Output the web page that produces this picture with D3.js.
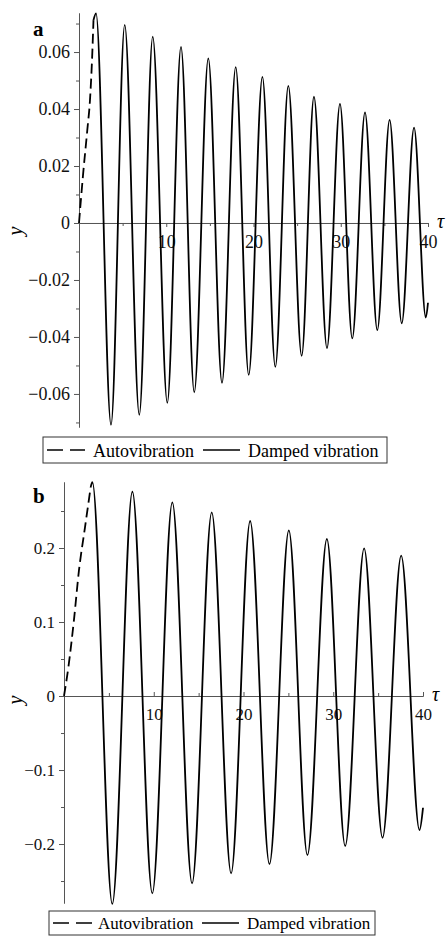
<!DOCTYPE html>
<html>
<head>
<meta charset="utf-8">
<script src="https://cdn.jsdelivr.net/npm/d3@7"></script>
<style>
  body { margin: 0; background: #fff; }
  svg { display: block; font-family: "Liberation Serif", "Times New Roman", serif; }
</style>
</head>
<body>
<div id="chart"></div>
<script>
// ---- panel a: values ----
var autoTauA = [0, 0.46, 0.95, 1.26, 1.49, 1.66];
var autoYA   = [0, 0.0168, 0.0326, 0.0432, 0.057, 0.0712];
var dampTauA = [1.66, 1.95, 3.67, 5.24, 6.91, 8.45, 10.12, 11.69, 13.21, 14.82, 16.39, 17.96, 19.45,
                21.02, 22.5, 23.99, 25.52, 26.93, 28.42, 29.91, 31.32, 32.78, 34.19, 35.6, 36.99, 38.4, 39.75, 40];
var dampYA   = [0.0712, 0.0736, -0.0708, 0.0695, -0.0673, 0.0654, -0.0631, 0.0618, -0.0594, 0.0578, -0.0561, 0.0547, -0.0533,
                0.0513, -0.0505, 0.0481, -0.0466, 0.0443, -0.0439, 0.0418, -0.0405, 0.0388, -0.0376, 0.0362, -0.0352, 0.0335, -0.0332, -0.028];
var yMajorA  = [-0.06, -0.04, -0.02, 0, 0.02, 0.04, 0.06];
var yLabelsA = ["\u22120.06", "\u22120.04", "\u22120.02", "0", "0.02", "0.04", "0.06"];
var yMinorA  = [-0.07, -0.05, -0.03, -0.01, 0.01, 0.03, 0.05, 0.07];

// ---- panel b ----
var autoTauB = [0, 0.5, 1.11, 1.67, 2.34, 2.97];
var autoYB   = [0, 0.04, 0.103, 0.17, 0.228, 0.282];
var dampTauB = [2.97, 3.16, 5.38, 7.62, 9.84, 12.07, 14.27, 16.46, 18.62, 20.74, 22.89,
                25.05, 27.12, 29.29, 31.33, 33.44, 35.49, 37.57, 39.61, 40];
var dampYB   = [0.282, 0.289, -0.281, 0.276, -0.2667, 0.2617, -0.2532, 0.2482, -0.2396, 0.2365, -0.227,
                0.2239, -0.2149, 0.2122, -0.2027, 0.1996, -0.1915, 0.1896, -0.1811, -0.151];
var yMajorB  = [-0.2, -0.1, 0, 0.1, 0.2];
var yLabelsB = ["\u22120.2", "\u22120.1", "0", "0.1", "0.2"];
var yMinorB  = [-0.25, -0.15, -0.05, 0.05, 0.15, 0.25];

// shared
var tauMajor = [10, 20, 30, 40];
var tauLabels = ["10", "20", "30", "40"];
var tauMinor = [5, 15, 25, 35];
var legendLabels = ["Autovibration", "Damped vibration"];

var svg = d3.select("#chart").append("svg")
    .attr("width", 446)
    .attr("height", 936);

function drawPanel(p) {
    var x = d3.scaleLinear().domain([0, 40]).range([p.left, p.right]);
    var y = d3.scaleLinear().domain(p.yDomain).range([p.bottom, p.top]);
    var g = svg.append("g");

    // y axis, minor then major ticks
    g.append("g")
        .attr("transform", "translate(" + p.left + ",0)")
        .call(d3.axisLeft(y).tickValues(p.yMinor).tickSize(3).tickSizeOuter(0).tickFormat(""));
    var ya = g.append("g")
        .attr("transform", "translate(" + p.left + ",0)")
        .call(d3.axisLeft(y).tickValues(p.yMajor).tickSize(5).tickPadding(4).tickSizeOuter(0)
            .tickFormat(function(d, i) { return p.yLabels[i]; }));
    ya.attr("font-size", p.fs).attr("font-family", null);

    // x axis through zero
    var dir = p.tickDown ? 1 : -1;
    g.append("g")
        .attr("transform", "translate(0," + y(0) + ")")
        .call(d3.axisBottom(x).tickValues(tauMinor).tickSize(3 * dir).tickSizeOuter(0).tickFormat(""));
    var xa = g.append("g")
        .attr("transform", "translate(0," + y(0) + ")")
        .call(d3.axisBottom(x).tickValues(tauMajor).tickSize(4 * dir).tickPadding(p.tickDown ? 8 : 12)
            .tickSizeOuter(0).tickFormat(function(d, i) { return tauLabels[i]; }));
    xa.attr("font-size", p.fs).attr("font-family", null);

    g.selectAll(".domain, .tick line").attr("stroke", "#555");
    g.selectAll(".tick text").attr("fill", "#111");

    // curves
    var line = d3.line()
        .x(function(d) { return x(d[0]); })
        .y(function(d) { return y(d[1]); })
        .curve(d3.curveMonotoneX);

    g.append("path")
        .datum(p.autoTau.map(function(t, i) { return [t, p.autoY[i]]; }))
        .attr("d", line)
        .attr("fill", "none")
        .attr("stroke", "#000")
        .attr("stroke-width", 1.8)
        .attr("stroke-dasharray", "10,5");

    g.append("path")
        .datum(p.dampTau.map(function(t, i) { return [t, p.dampY[i]]; }))
        .attr("d", line)
        .attr("fill", "none")
        .attr("stroke", "#000")
        .attr("stroke-width", 1.8);

    // labels
    g.append("text")
        .attr("x", p.letterX).attr("y", p.letterY)
        .attr("font-size", 21).attr("font-weight", "bold")
        .text(p.letter);
    g.append("text")
        .attr("transform", "translate(22," + p.yLabelY + ") rotate(-90)")
        .attr("text-anchor", "middle")
        .attr("font-size", 20).attr("font-style", "italic")
        .text("y");
    g.append("text")
        .attr("x", p.right + 9).attr("y", y(0) + 5)
        .attr("font-size", 20).attr("font-style", "italic")
        .text("\u03c4");

    // legend
    var L = p.legend;
    var lg = g.append("g");
    lg.append("rect")
        .attr("x", L.x).attr("y", L.y).attr("width", L.w).attr("height", L.h)
        .attr("fill", "#fff").attr("stroke", "#333").attr("stroke-width", 1);
    var ly = L.y + L.h / 2;
    lg.append("line")
        .attr("x1", L.dash[0]).attr("x2", L.dash[1]).attr("y1", ly).attr("y2", ly)
        .attr("stroke", "#000").attr("stroke-width", 1.6).attr("stroke-dasharray", "16,7");
    lg.append("line")
        .attr("x1", L.solid[0]).attr("x2", L.solid[1]).attr("y1", ly).attr("y2", ly)
        .attr("stroke", "#000").attr("stroke-width", 1.6);
    lg.append("text").attr("x", L.text[0]).attr("y", L.base).attr("font-size", p.fs).text(legendLabels[0]);
    lg.append("text").attr("x", L.text[1]).attr("y", L.base).attr("font-size", p.fs).text(legendLabels[1]);
}

drawPanel({
    left: 79, right: 428, top: 13, bottom: 427, yDomain: [-0.0716, 0.0737],
    yMajor: yMajorA, yLabels: yLabelsA, yMinor: yMinorA, fs: 18, tickDown: true,
    autoTau: autoTauA, autoY: autoYA, dampTau: dampTauA, dampY: dampYA,
    letter: "a", letterX: 33, letterY: 36, yLabelY: 231,
    legend: { x: 43, y: 437, w: 344, h: 26, base: 457, dash: [47, 85], solid: [203, 240], text: [93, 248] }
});

drawPanel({
    left: 64, right: 423, top: 482, bottom: 903, yDomain: [-0.2797, 0.2892],
    yMajor: yMajorB, yLabels: yLabelsB, yMinor: yMinorB, fs: 17, tickDown: false,
    autoTau: autoTauB, autoY: autoYB, dampTau: dampTauB, dampY: dampYB,
    letter: "b", letterX: 33, letterY: 503, yLabelY: 700,
    legend: { x: 49, y: 911, w: 326, h: 24, base: 929, dash: [53, 92], solid: [202, 239], text: [98, 247] }
});
</script>
</body>
</html>
